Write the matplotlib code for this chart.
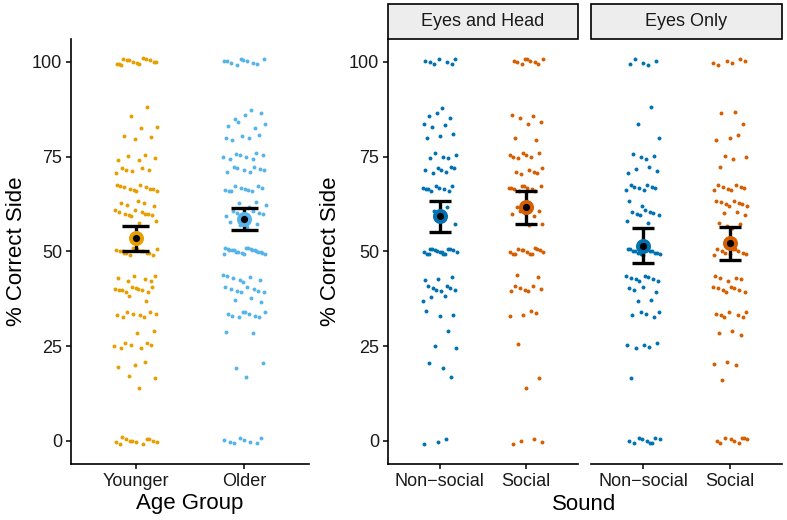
"""Recreation of the % correct side plot: age group panel plus sound-by-cue facets."""

import matplotlib
matplotlib.use("Agg")
import matplotlib.pyplot as plt
from matplotlib.patches import Rectangle
import numpy as np

plt.rcParams["font.family"] = ["Liberation Sans", "DejaVu Sans"]

# ---------------------------------------------------------------------------
# Data
# ---------------------------------------------------------------------------

# Percent-correct levels the individual scores fall on
levels = [100, 87.5, 85.7, 83.3, 80, 75, 71.4, 66.7, 62.5, 60, 57.1, 50,
          42.9, 40, 37.5, 33.3, 28.6, 25, 20, 16.7, 14.3, 0]

# Number of individual scores at each level
younger_counts = [14, 1, 1, 2, 3, 5, 6, 11, 5, 10, 2, 14, 6, 10, 2, 8, 2, 7, 3, 2, 1, 12]
older_counts = [10, 1, 3, 4, 5, 8, 8, 10, 4, 7, 4, 20, 7, 8, 3, 9, 2, 0, 2, 1, 0, 8]
eh_nonsocial_counts = [7, 1, 3, 3, 3, 5, 7, 9, 1, 1, 1, 15, 3, 7, 3, 3, 1, 2, 2, 1, 0, 3]
eh_social_counts = [9, 0, 3, 2, 2, 7, 6, 10, 2, 5, 2, 13, 2, 7, 0, 4, 0, 1, 0, 1, 1, 4]
eo_nonsocial_counts = [5, 1, 0, 1, 1, 4, 4, 8, 2, 7, 2, 13, 8, 4, 2, 5, 0, 5, 0, 1, 0, 9]
eo_social_counts = [6, 1, 1, 1, 3, 3, 1, 8, 8, 3, 4, 10, 5, 8, 0, 7, 3, 0, 3, 1, 0, 9]

age_groups = ["Younger", "Older"]
age_means = [53.5, 58.5]
age_lower = [50.1, 55.5]
age_upper = [56.7, 61.4]

sounds = ["Non\u2212social", "Social"]
cues = ["Eyes and Head", "Eyes Only"]
eh_means = [59.3, 61.7]
eh_lower = [55.1, 57.3]
eh_upper = [63.3, 66.0]
eo_means = [51.4, 52.2]
eo_lower = [46.9, 47.8]
eo_upper = [56.1, 56.5]

age_colors = ["#E69F00", "#56B4E9"]
sound_colors = ["#0072B2", "#D55E00"]


# ---------------------------------------------------------------------------
# Helpers
# ---------------------------------------------------------------------------

def _jitter(counts, offset):
    """Expand level counts into scores with a deterministic jitter."""
    ys = np.repeat(levels, counts).astype(float)
    idx = np.arange(len(ys))
    x_off = ((idx * 0.6180339887 + offset) % 1.0 - 0.5) * 0.4
    y_off = ((idx * 0.7548776662 + offset * 1.7) % 1.0 - 0.5) * 1.8
    return x_off, ys + y_off


def _draw_group(ax, pos, counts, mean, lo, hi, color, offset):
    x_off, ys = _jitter(counts, offset)
    ax.scatter(pos + x_off, ys, s=8, color=color, linewidths=0, zorder=2)
    ax.vlines(pos, lo, hi, color="black", linewidth=2.4, zorder=3)
    ax.hlines([lo, hi], pos - 0.125, pos + 0.125, color="black", linewidth=2.4, zorder=3)
    ax.plot(pos, mean, "o", markersize=8, markerfacecolor="black",
            markeredgecolor=color, markeredgewidth=2.8, zorder=4)


def _style(ax, labels, show_y=True):
    ax.set_xlim(0.4, 2.6)
    ax.set_ylim(-6.1, 106.1)
    ax.set_xticks([1, 2])
    ax.set_xticklabels(labels)
    ax.set_yticks([0, 25, 50, 75, 100])
    for side in ("top", "right"):
        ax.spines[side].set_visible(False)
    ax.spines["bottom"].set_linewidth(1.2)
    ax.spines["left"].set_linewidth(1.2)
    ax.tick_params(labelsize=13, length=3.5, width=1.1, pad=3,
                   colors="black", labelcolor="#1a1a1a")
    if not show_y:
        ax.spines["left"].set_visible(False)
        ax.tick_params(axis="y", left=False, labelleft=False)


def _strip(ax, text, frac):
    ax.add_patch(Rectangle((0, 1), 1, frac, transform=ax.transAxes,
                           facecolor="#EDEDED", edgecolor="black",
                           linewidth=1.2, clip_on=False))
    ax.text(0.5, 1 + frac / 2, text, transform=ax.transAxes,
            ha="center", va="center", fontsize=13, color="#1a1a1a")


# ---------------------------------------------------------------------------
# Figure
# ---------------------------------------------------------------------------

W, H = 787, 520
fig = plt.figure(figsize=(W / 100, H / 100), dpi=100)


def _axes_px(x0, x1, y0, y1):
    return fig.add_axes([x0 / W, 1 - y1 / H, (x1 - x0) / W, (y1 - y0) / H])


top, bottom = 38.6, 464.0
ax_age = _axes_px(71, 309, top, bottom)
ax_eh = _axes_px(388, 578, top, bottom)
ax_eo = _axes_px(591, 782, top, bottom)

age_counts = [younger_counts, older_counts]
for i in range(2):
    _draw_group(ax_age, i + 1, age_counts[i], age_means[i], age_lower[i],
                age_upper[i], age_colors[i], 0.11 + 0.37 * i)
_style(ax_age, age_groups)
ax_age.set_ylabel("% Correct Side", fontsize=16)
ax_age.yaxis.set_label_coords(-0.185, 0.5)
ax_age.set_xlabel("Age Group", fontsize=16, labelpad=2)

facets = [
    (ax_eh, [eh_nonsocial_counts, eh_social_counts], eh_means, eh_lower, eh_upper),
    (ax_eo, [eo_nonsocial_counts, eo_social_counts], eo_means, eo_lower, eo_upper),
]
strip_frac = (top - 4) / (bottom - top)
for k, (ax, counts, means, lower, upper) in enumerate(facets):
    for i in range(2):
        _draw_group(ax, i + 1, counts[i], means[i], lower[i], upper[i],
                    sound_colors[i], 0.23 + 0.29 * i + 0.41 * k)
    _style(ax, sounds, show_y=(k == 0))
    _strip(ax, cues[k], strip_frac)

ax_eh.set_ylabel("% Correct Side", fontsize=16)
ax_eh.yaxis.set_label_coords(-0.245, 0.5)
fig.text(584.5 / W, 1 - 505 / H, "Sound", ha="center", va="center",
         fontsize=16, color="black")

fig.savefig("out.png", dpi=100)
plt.close(fig)
